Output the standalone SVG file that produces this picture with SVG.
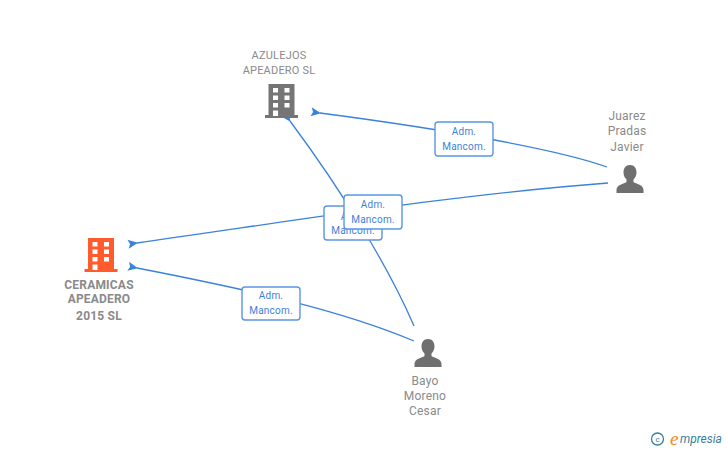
<svg xmlns="http://www.w3.org/2000/svg" width="728" height="450" viewBox="0 0 728 450">
<style>
text{font-family:Roboto,"Liberation Sans",sans-serif}
.lbl{font-size:12px;fill:#8a8a8a;text-anchor:middle;letter-spacing:.2px}
.b{font-weight:bold}
.e{fill:none;stroke:#3b82dc;stroke-width:1.3}
.box{fill:#fff;stroke:#5b95e3;stroke-width:1.4}
.t{font-size:10px;fill:#3f7fd8;text-anchor:middle;letter-spacing:.2px}
</style>
<defs>
<marker id="a" markerUnits="userSpaceOnUse" markerWidth="12" markerHeight="10" refX="1" refY="4.5" orient="auto"><path d="M0 4.5L10 0L8 4.5L10 9Z" fill="#3b82dc"/></marker>
<g id="bld"><path d="M-13 -17H13V14H16.500V17H-16.500V14H-13ZM-8.500 -13V-8.500H-3.500V-13ZM3 -13V-8.500H8V-13ZM-8.500 -5.500V-1H-3.500V-5.500ZM3 -5.500V-1H8V-5.500ZM-8.500 2V6.500H-3.500V2ZM3 2V6.500H8V2ZM-8.500 9.500V15H-3.500V9.500Z" fill-rule="evenodd"/></g>
<path id="per" d="M0 -14C4.500 -14 6.500 -10.500 6.500 -6.500C6.500 -3 5 -1 3.500 0.500V3C6 5 13.500 5.500 13.500 11V14H-13.500V11C-13.500 5.500 -6 5 -3.500 3V0.500C-5 -1 -6.500 -3 -6.500 -6.500C-6.500 -10.500 -4.500 -14 0 -14Z" fill="#6f6f6f"/>
</defs>
<g id="connectors">
<path class="e" marker-end="url(#a)" d="M607 167C560 150 450 130 320 113"/>
<path class="e" marker-end="url(#a)" d="M608 183C450 195 300 220 137 243"/>
<path class="e" marker-end="url(#a)" d="M414 326C390 270 345 195 290 121"/>
<path class="e" marker-end="url(#a)" d="M414 341C340 310 250 290 137 268"/>
</g>
<g id="edge-label-3"><rect class="box" x="324" y="206" width="58" height="34" rx="3"/><text class="t" x="353" y="220">Adm.</text><text class="t" x="353" y="234">Mancom.</text></g>
<g id="edge-label-1"><rect class="box" x="435" y="122" width="58" height="34" rx="3"/><text class="t" x="464" y="135">Adm.</text><text class="t" x="464" y="150">Mancom.</text></g>
<g id="edge-label-2"><rect class="box" x="344" y="195" width="58" height="34" rx="3"/><text class="t" x="373" y="208">Adm.</text><text class="t" x="373" y="223">Mancom.</text></g>
<g id="edge-label-4"><rect class="box" x="242" y="287" width="58" height="33" rx="3"/><text class="t" x="271" y="299">Adm.</text><text class="t" x="271" y="314">Mancom.</text></g>
<g id="azulejos"><text class="lbl" x="279" y="59" style="font-size:11px">AZULEJOS</text><text class="lbl" x="279" y="74" style="font-size:11px">APEADERO SL</text><use href="#bld" x="281.500" y="101" fill="#757575"/></g>
<g id="ceramicas"><text class="lbl b" x="99" y="289">CERAMICAS</text><text class="lbl b" x="99" y="303">APEADERO</text><text class="lbl b" x="99" y="320">2015  SL</text><use href="#bld" x="101" y="255" fill="#ff5c2e"/></g>
<g id="juarez"><text class="lbl" x="627" y="120">Juarez</text><text class="lbl" x="627" y="135">Pradas</text><text class="lbl" x="627" y="151">Javier</text><use href="#per" x="630" y="179"/></g>
<g id="bayo"><text class="lbl" x="425" y="385">Bayo</text><text class="lbl" x="425" y="400">Moreno</text><text class="lbl" x="425" y="415">Cesar</text><use href="#per" x="428" y="353"/></g>
<g id="logo"><circle cx="657.500" cy="439" r="6" fill="none" stroke="#3a7f9c" stroke-width="1.300"/><text x="657.500" y="442" font-size="8" fill="#3a7f9c" text-anchor="middle">c</text><text x="670" y="445" font-size="19" fill="#f08a1d" style="font-family:'Liberation Serif',serif;font-style:italic">e</text><text x="680" y="443" font-size="12" fill="#3a7f9c" style="font-style:italic">mpresia</text></g>
</svg>
